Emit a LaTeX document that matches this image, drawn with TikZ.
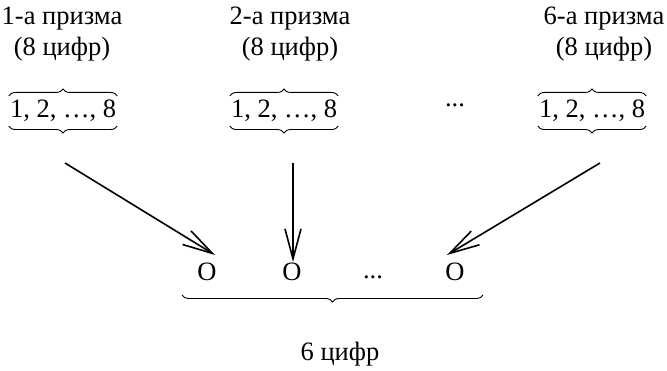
\documentclass[tikz,border=0pt]{standalone}
\usepackage{fontspec}
\setmainfont{Liberation Serif}
\usetikzlibrary{arrows.meta,decorations.pathreplacing}
\begin{document}
\begin{tikzpicture}[x=1pt,y=1pt,
  txt/.style={font=\fontsize{26.5}{31}\selectfont, inner sep=0pt},
  grp/.style={txt, inner xsep=1pt, inner ysep=4pt},
  brc/.style={decorate, decoration={brace, amplitude=7pt}, line width=0.9pt},
  arr/.style={line width=1.6pt, -{Straight Barb[length=30pt,width=16pt,line width=1.6pt]}}]
\useasboundingbox (0,0) rectangle (667,371);
% titles
\node[txt, align=center] (t1) at (62,337) {1-а призма\\(8 цифр)};
\node[txt, align=center] (t2) at (290,337) {2-а призма\\(8 цифр)};
\node[txt, align=center] (t3) at (604,337) {6-а призма\\(8 цифр)};
% groups
\node[grp] (p1) at (63,260) {1, 2, …, 8};
\node[grp] (p2) at (284,260) {1, 2, …, 8};
\node[grp] (p3) at (592,260) {1, 2, …, 8};
\node[txt] (pd) at (455,266) {...};
\foreach \p in {p1,p2,p3}{
  \draw[brc] (\p.north west) -- (\p.north east);
  \draw[brc] (\p.south east) -- (\p.south west);
}
% bottom row
\node[txt] (o1) at (207,99) {O};
\node[txt] (o2) at (292,99) {O};
\node[txt] (od) at (373,94) {...};
\node[txt] (o3) at (455,99) {O};
\coordinate (bl) at (182,76);
\coordinate (br) at (483,76);
\draw[brc] (br) -- (bl);
\node[txt] (lab) at (340,17) {6 цифр};
% arrows
\coordinate (s1) at (65,208);
\coordinate (e1) at (215,116);
\coordinate (s2) at (293,208);
\coordinate (e2) at (293,109);
\coordinate (s3) at (600,208);
\coordinate (e3) at (447,116);
\draw[arr] (s1) -- (e1);
\draw[arr] (s2) -- (e2);
\draw[arr] (s3) -- (e3);
\end{tikzpicture}
\end{document}
